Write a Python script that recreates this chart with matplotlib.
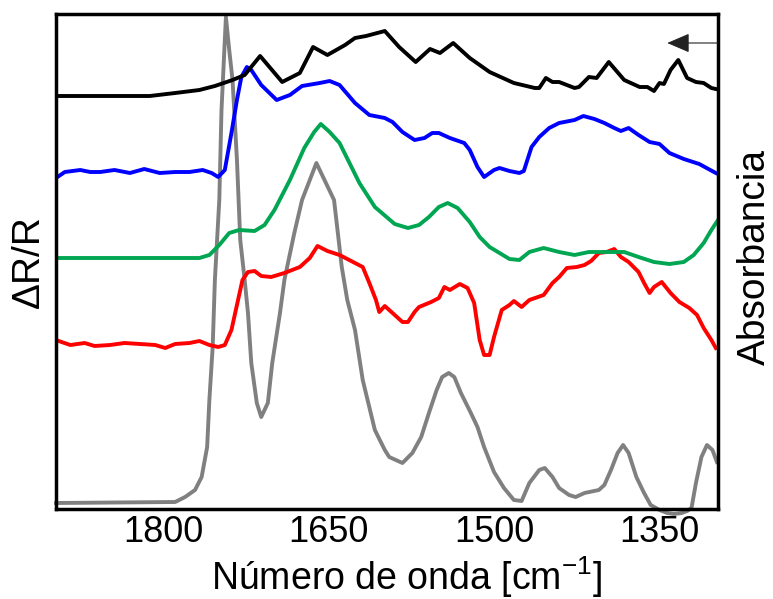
import matplotlib
matplotlib.use("Agg")
import matplotlib.pyplot as plt

plt.rcParams['font.family'] = ['Liberation Sans', 'DejaVu Sans']

# wavenumbers (cm-1) and intensities (arbitrary units, stacked traces)
black_wn = [1897, 1857, 1812, 1789, 1767, 1753, 1737, 1726, 1712, 1692, 1676, 1664, 1651, 1635,
            1626, 1616, 1599, 1586, 1571, 1558, 1549, 1537, 1522, 1504, 1482, 1463, 1459, 1453,
            1447, 1441, 1427, 1423, 1414, 1407, 1396, 1382, 1368, 1361, 1355, 1350, 1346, 1340,
            1333, 1325, 1317, 1310, 1303, 1299]
black_y = [4.13, 4.13, 4.13, 4.16, 4.19, 4.23, 4.29, 4.34, 4.53, 4.27, 4.36, 4.62, 4.54, 4.64,
           4.71, 4.73, 4.78, 4.62, 4.47, 4.60, 4.56, 4.66, 4.51, 4.37, 4.26, 4.21, 4.21, 4.31,
           4.27, 4.27, 4.21, 4.22, 4.32, 4.31, 4.47, 4.29, 4.22, 4.22, 4.18, 4.26, 4.25, 4.39,
           4.49, 4.31, 4.27, 4.26, 4.21, 4.20]

blue_wn = [1897, 1889, 1875, 1866, 1857, 1844, 1830, 1817, 1803, 1789, 1776, 1764, 1756, 1750,
           1744, 1738, 1733, 1729, 1724, 1720, 1711, 1697, 1685, 1674, 1658, 1649, 1640, 1626,
           1613, 1599, 1592, 1583, 1572, 1563, 1556, 1550, 1540, 1527, 1522, 1515, 1509, 1500,
           1495, 1486, 1477, 1473, 1466, 1459, 1450, 1441, 1427, 1419, 1409, 1400, 1391, 1385,
           1378, 1369, 1359, 1350, 1341, 1328, 1314, 1299]
blue_y = [3.31, 3.37, 3.39, 3.37, 3.37, 3.39, 3.36, 3.40, 3.36, 3.37, 3.37, 3.39, 3.36, 3.32,
          3.39, 3.76, 4.09, 4.32, 4.42, 4.39, 4.24, 4.09, 4.14, 4.23, 4.26, 4.28, 4.24, 4.06,
          3.94, 3.91, 3.87, 3.77, 3.69, 3.71, 3.76, 3.76, 3.71, 3.66, 3.59, 3.42, 3.32, 3.39,
          3.41, 3.38, 3.36, 3.38, 3.62, 3.72, 3.81, 3.86, 3.89, 3.93, 3.90, 3.86, 3.81, 3.78,
          3.81, 3.74, 3.67, 3.65, 3.56, 3.50, 3.45, 3.36]

green_wn = [1897, 1767, 1758, 1749, 1740, 1731, 1717, 1708, 1699, 1685, 1672, 1663, 1657, 1649,
            1640, 1631, 1622, 1608, 1590, 1578, 1568, 1559, 1550, 1542, 1533, 1522, 1513, 1504,
            1495, 1486, 1477, 1468, 1455, 1441, 1427, 1414, 1396, 1382, 1369, 1355, 1341, 1328,
            1319, 1310, 1303, 1297]
green_y = [2.51, 2.51, 2.54, 2.64, 2.76, 2.79, 2.78, 2.84, 2.99, 3.29, 3.61, 3.77, 3.85, 3.77,
           3.66, 3.46, 3.26, 3.02, 2.85, 2.81, 2.84, 2.92, 3.02, 3.06, 3.01, 2.87, 2.72, 2.62,
           2.56, 2.50, 2.49, 2.57, 2.61, 2.57, 2.54, 2.57, 2.57, 2.57, 2.52, 2.47, 2.45, 2.47,
           2.54, 2.66, 2.79, 2.89]

red_wn = [1897, 1892, 1884, 1871, 1862, 1848, 1835, 1821, 1807, 1798, 1789, 1776, 1767, 1758,
          1750, 1744, 1738, 1732, 1728, 1723, 1717, 1711, 1702, 1690, 1676, 1667, 1660, 1651,
          1640, 1626, 1619, 1613, 1607, 1604, 1599, 1592, 1583, 1578, 1572, 1568, 1557, 1550,
          1545, 1540, 1531, 1524, 1518, 1513, 1509, 1504, 1500, 1493, 1486, 1482, 1475, 1468,
          1455, 1447, 1441, 1434, 1425, 1418, 1412, 1405, 1398, 1391, 1385, 1378, 1369, 1364,
          1359, 1355, 1348, 1340, 1332, 1323, 1316, 1310, 1303, 1299]
red_y = [1.69, 1.67, 1.64, 1.66, 1.63, 1.64, 1.66, 1.65, 1.64, 1.61, 1.65, 1.66, 1.68, 1.64,
         1.62, 1.64, 1.79, 2.09, 2.29, 2.37, 2.38, 2.33, 2.32, 2.36, 2.42, 2.51, 2.63, 2.58,
         2.54, 2.46, 2.42, 2.26, 2.09, 1.97, 2.03, 1.96, 1.87, 1.87, 1.97, 2.02, 2.07, 2.11,
         2.22, 2.19, 2.25, 2.21, 2.06, 1.69, 1.54, 1.54, 1.72, 1.99, 2.04, 2.08, 2.02, 2.09,
         2.14, 2.26, 2.32, 2.41, 2.42, 2.44, 2.48, 2.56, 2.57, 2.60, 2.52, 2.47, 2.37, 2.26,
         2.16, 2.22, 2.27, 2.16, 2.07, 2.01, 1.94, 1.81, 1.69, 1.61]

# absorbance spectrum (gray)
abs_wn = [1897, 1789, 1780, 1771, 1765, 1760, 1758, 1755, 1753, 1752, 1749, 1747, 1743, 1740,
          1737, 1733, 1730, 1726, 1723, 1720, 1715, 1711, 1705, 1701, 1694, 1690, 1681, 1674,
          1661, 1645, 1638, 1633, 1626, 1619, 1608, 1599, 1595, 1583, 1574, 1566, 1559, 1552,
          1547, 1541, 1536, 1530, 1521, 1515, 1509, 1500, 1491, 1482, 1475, 1468, 1459, 1454,
          1447, 1441, 1432, 1426, 1418, 1405, 1400, 1394, 1388, 1383, 1378, 1371, 1364, 1358,
          1350, 1343, 1337, 1330, 1325, 1321, 1317, 1312, 1307, 1302, 1298]
abs_y = [0.06, 0.07, 0.12, 0.19, 0.32, 0.62, 1.09, 1.62, 2.29, 2.49, 3.09, 3.99, 4.92, 4.59,
         4.29, 3.49, 2.69, 2.29, 1.96, 1.46, 1.06, 0.92, 1.06, 1.46, 1.96, 2.29, 2.76, 3.09,
         3.46, 3.09, 2.42, 2.09, 1.79, 1.29, 0.79, 0.59, 0.52, 0.46, 0.56, 0.72, 0.96, 1.19,
         1.32, 1.36, 1.32, 1.16, 0.96, 0.82, 0.62, 0.37, 0.21, 0.09, 0.08, 0.26, 0.39, 0.41,
         0.32, 0.21, 0.14, 0.12, 0.16, 0.19, 0.24, 0.39, 0.56, 0.64, 0.56, 0.32, 0.16, 0.04,
         -0.01, -0.04, -0.05, -0.04, -0.02, 0.01, 0.26, 0.52, 0.64, 0.59, 0.47]

xticks = [1800, 1650, 1500, 1350]

fig = plt.figure(figsize=(7.73, 5.99), dpi=100)
ax = fig.add_axes([56 / 773, 1 - 509 / 599, 662 / 773, 495 / 599])

lw = 2.8
ax.plot(abs_wn, abs_y, color='#808080', lw=lw, clip_on=False, solid_joinstyle='round')
ax.plot(red_wn, red_y, color='#ff0000', lw=lw, solid_joinstyle='round')
ax.plot(green_wn, green_y, color='#00a651', lw=lw, solid_joinstyle='round')
ax.plot(blue_wn, blue_y, color='#0000ff', lw=lw, solid_joinstyle='round')
ax.plot(black_wn, black_y, color='#000000', lw=lw, solid_joinstyle='round')

ax.set_xlim(1897, 1297)
ax.set_ylim(0, 4.95)
ax.set_xticks(xticks)
ax.set_yticks([])
ax.tick_params(axis='x', length=0, pad=4, labelsize=26)
for s in ax.spines.values():
    s.set_linewidth(2.5)

# scan direction arrow
ax.annotate('', xy=(1343, 4.66), xycoords='data',
            xytext=(1.0, 4.66), textcoords=('axes fraction', 'data'),
            arrowprops=dict(arrowstyle='-|>,head_length=0.7,head_width=0.3',
                            mutation_scale=20, lw=0.8, color='#222222',
                            shrinkA=0, shrinkB=0))

ax.text(0.529, -0.138, 'Número de onda [cm$^{\\mathregular{-1}}$]', transform=ax.transAxes,
        ha='center', va='center', fontsize=27)
ax.text(-0.041, 0.5, 'ΔR/R', transform=ax.transAxes, rotation=90,
        ha='center', va='center', fontsize=28)
ax.text(1.056, 0.51, 'Absorbancia', transform=ax.transAxes, rotation=90,
        ha='center', va='center', fontsize=28)

fig.savefig('out.png', dpi=100)
